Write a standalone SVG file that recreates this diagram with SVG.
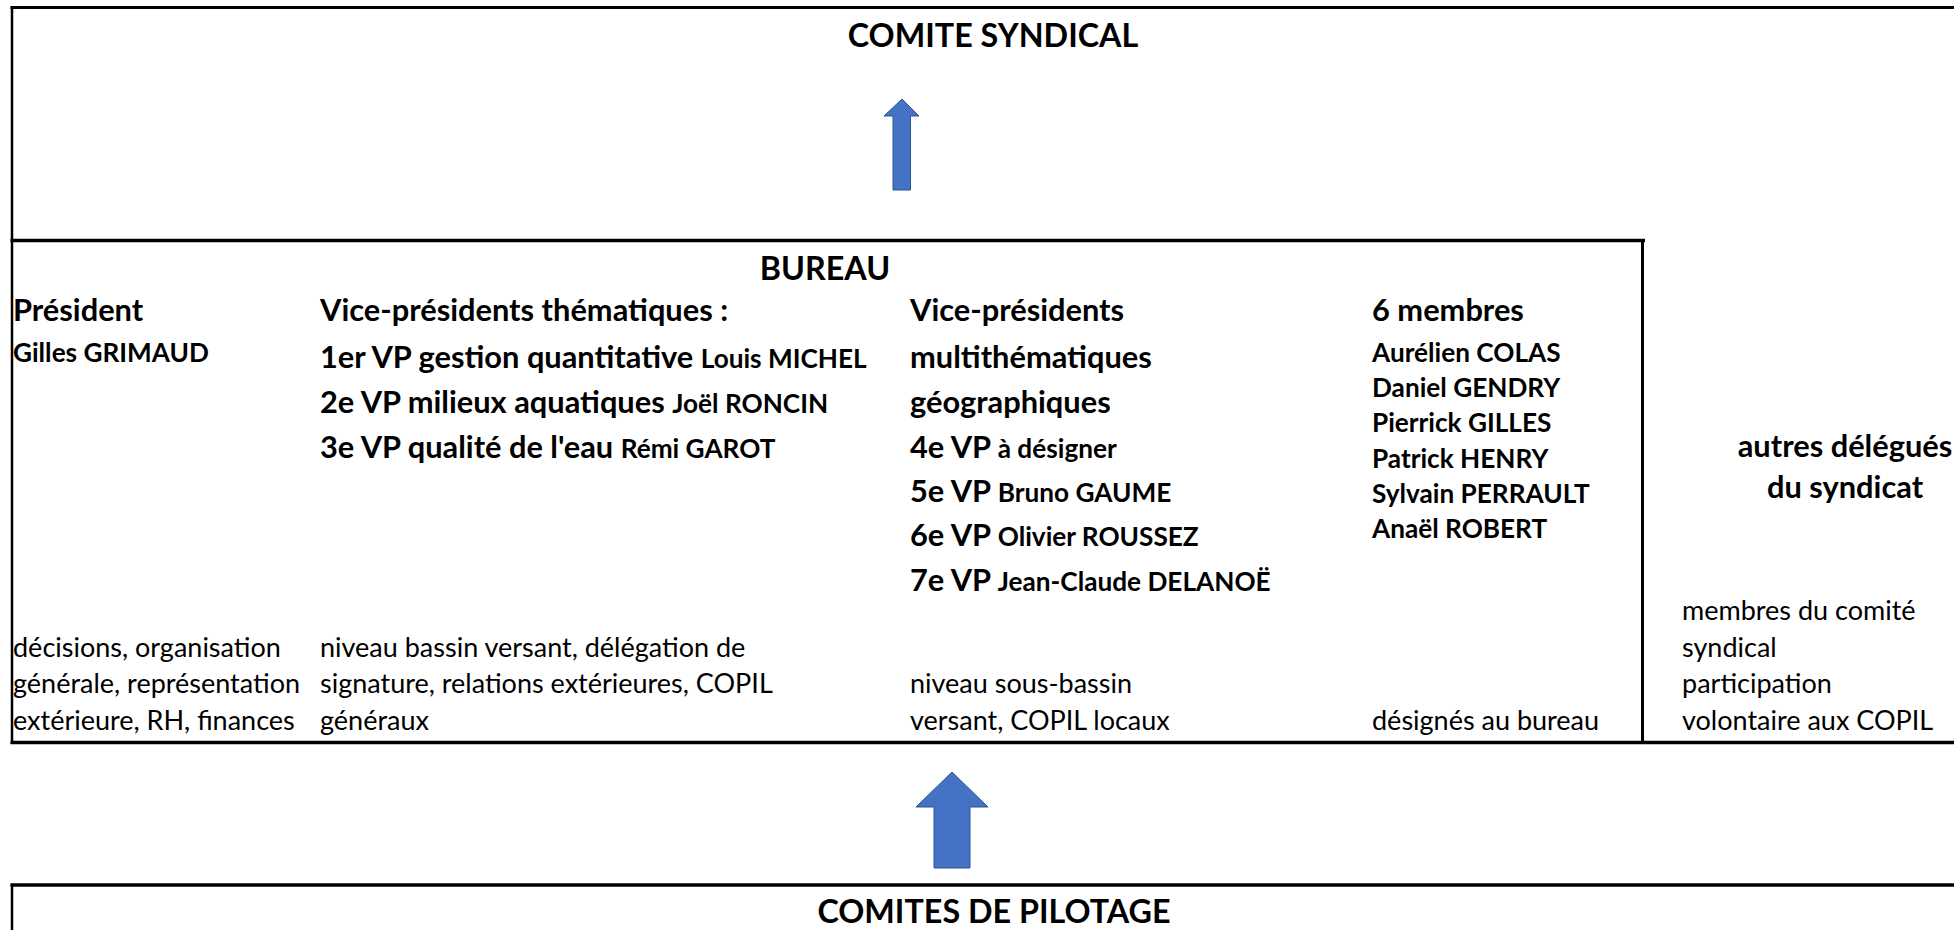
<svg xmlns="http://www.w3.org/2000/svg" width="1954" height="930" viewBox="0 0 1954 930">
<style>
text{font-family:Lato,"Liberation Sans",sans-serif;fill:#000}
.big{font-size:32.3px;font-weight:700}
.h{font-size:30.8px;font-weight:700}
.s{font-size:26.2px;font-weight:700}
.b{font-size:27px;font-weight:400}
.ln{stroke:#000;fill:none}
.arr{fill:#4472C4;stroke:#2F528F;stroke-width:1}
</style>
<rect x="0" y="0" width="1954" height="930" fill="#fff"/>
<g id="frame">
<line class="ln" x1="10.5" y1="7.5" x2="1954" y2="7.5" stroke-width="3"/>
<line class="ln" x1="12" y1="6" x2="12" y2="744" stroke-width="2.5"/>
<line class="ln" x1="12" y1="884" x2="12" y2="930" stroke-width="2.5"/>
<line class="ln" x1="10.5" y1="240.5" x2="1645" y2="240.5" stroke-width="3.5"/>
<line class="ln" x1="1642.5" y1="239" x2="1642.5" y2="744" stroke-width="3"/>
<line class="ln" x1="10.5" y1="742.5" x2="1954" y2="742.5" stroke-width="3.5"/>
<line class="ln" x1="10.5" y1="885" x2="1954" y2="885" stroke-width="3.5"/>
</g>
<g id="comite-syndical">
<text class="big" x="993" y="47" text-anchor="middle">COMITE SYNDICAL</text>
</g>
<g id="connectors">
<polygon class="arr" points="902,99 919,116 910.5,116 910.5,190 893,190 893,116 884,116"/>
<polygon class="arr" points="952,772 988,807 970,807 970,868 934,868 934,807 916,807"/>
</g>
<g id="bureau">
<text class="big" x="825" y="280" text-anchor="middle">BUREAU</text>
</g>
<g id="president">
<text class="h" x="13" y="321">Président</text>
<text class="s" x="13" y="362">Gilles GRIMAUD</text>
<text class="b" x="13" y="657">décisions, organisation</text>
<text class="b" x="13" y="693">générale, représentation</text>
<text class="b" x="13" y="730">extérieure, RH, finances</text>
</g>
<g id="vp-thematiques">
<text class="h" x="320" y="321">Vice-présidents thématiques :</text>
<text x="320" y="368"><tspan class="h">1er VP gestion quantitative </tspan><tspan class="s">Louis MICHEL</tspan></text>
<text x="320" y="413"><tspan class="h">2e VP milieux aquatiques </tspan><tspan class="s">Joël RONCIN</tspan></text>
<text x="320" y="458"><tspan class="h">3e VP qualité de l'eau </tspan><tspan class="s">Rémi GAROT</tspan></text>
<text class="b" x="320" y="657">niveau bassin versant, délégation de</text>
<text class="b" x="320" y="693">signature, relations extérieures, COPIL</text>
<text class="b" x="320" y="730">généraux</text>
</g>
<g id="vp-geographiques">
<text class="h" x="910" y="321">Vice-présidents</text>
<text class="h" x="910" y="368">multithématiques</text>
<text class="h" x="910" y="413">géographiques</text>
<text x="910" y="458"><tspan class="h">4e VP </tspan><tspan class="s">à désigner</tspan></text>
<text x="910" y="502"><tspan class="h">5e VP </tspan><tspan class="s">Bruno GAUME</tspan></text>
<text x="910" y="546"><tspan class="h">6e VP </tspan><tspan class="s">Olivier ROUSSEZ</tspan></text>
<text x="910" y="591"><tspan class="h">7e VP </tspan><tspan class="s">Jean-Claude DELANOË</tspan></text>
<text class="b" x="910" y="693">niveau sous-bassin</text>
<text class="b" x="910" y="730">versant, COPIL locaux</text>
</g>
<g id="membres">
<text class="h" x="1372" y="321">6 membres</text>
<text class="s" x="1372" y="362">Aurélien COLAS</text>
<text class="s" x="1372" y="397">Daniel GENDRY</text>
<text class="s" x="1372" y="432">Pierrick GILLES</text>
<text class="s" x="1372" y="468">Patrick HENRY</text>
<text class="s" x="1372" y="503">Sylvain PERRAULT</text>
<text class="s" x="1372" y="538">Anaël ROBERT</text>
<text class="b" x="1372" y="730">désignés au bureau</text>
</g>
<g id="autres-delegues">
<text class="h" x="1845" y="457" text-anchor="middle">autres délégués</text>
<text class="h" x="1845" y="498" text-anchor="middle">du syndicat</text>
<text class="b" x="1682" y="620">membres du comité</text>
<text class="b" x="1682" y="657">syndical</text>
<text class="b" x="1682" y="693">participation</text>
<text class="b" x="1682" y="730">volontaire aux COPIL</text>
</g>
<g id="comites-pilotage">
<text class="big" x="994" y="923" text-anchor="middle">COMITES DE PILOTAGE</text>
</g>
</svg>
